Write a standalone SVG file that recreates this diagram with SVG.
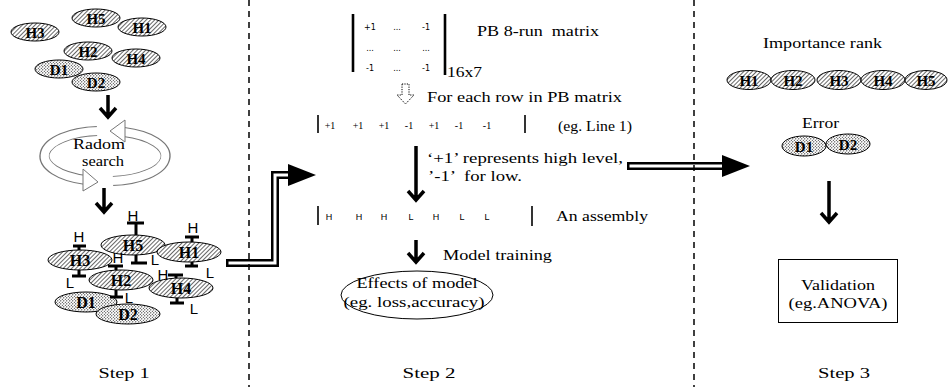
<svg xmlns="http://www.w3.org/2000/svg" width="948" height="387" viewBox="0 0 948 387">
<style>
.t{font-family:"Liberation Serif","Times New Roman",serif;font-size:15px;fill:#000}
.lab{font-family:"Liberation Serif","Times New Roman",serif;font-weight:bold;fill:#000;text-anchor:middle}
.s{font-family:"Liberation Sans",Arial,sans-serif;fill:#000}
.m{font-family:"DejaVu Sans","Liberation Sans",sans-serif;font-size:8px;fill:#000;text-anchor:middle}
.hn{fill:url(#hatch);stroke:#000;stroke-width:1}
.dn{fill:url(#dots);stroke:#000;stroke-width:1}
.ib{stroke:#000;stroke-width:3;fill:none}
.arr{stroke:#000;stroke-width:3.5;fill:none;stroke-linejoin:miter}
.bar{stroke:#000;stroke-width:1.6}
.mbar{stroke:#000;stroke-width:2.6}
.dash{stroke:#000;stroke-width:1.5;stroke-dasharray:6 5}
</style>
<defs>
<pattern id="hatch" width="3" height="3" patternUnits="userSpaceOnUse" patternTransform="rotate(45)">
<rect width="3" height="3" fill="#fff"/>
<line x1="0" y1="0" x2="0" y2="3" stroke="#000" stroke-width="1.2"/>
</pattern>
<pattern id="dots" width="3" height="3" patternUnits="userSpaceOnUse">
<rect width="3" height="3" fill="#fff"/>
<circle cx="0.8" cy="0.8" r="0.6" fill="#000"/>
<circle cx="2.3" cy="2.3" r="0.5" fill="#000"/>
</pattern>
</defs>
<rect width="948" height="387" fill="#fff"/>

<!-- Step 1: initial cluster -->
<g id="step1-initial">
<ellipse class="hn" cx="35" cy="32" rx="24" ry="9"/><text class="lab" x="35" y="37.5" font-size="15">H3</text>
<ellipse class="hn" cx="96" cy="18" rx="24" ry="9"/><text class="lab" x="96" y="23.5" font-size="15">H5</text>
<ellipse class="hn" cx="142" cy="27" rx="24" ry="9"/><text class="lab" x="142" y="32.5" font-size="15">H1</text>
<ellipse class="hn" cx="88" cy="51" rx="24" ry="9"/><text class="lab" x="88" y="56.5" font-size="15">H2</text>
<ellipse class="hn" cx="136" cy="58" rx="24" ry="9"/><text class="lab" x="136" y="63.5" font-size="15">H4</text>
<ellipse class="dn" cx="59" cy="69" rx="24" ry="9"/><text class="lab" x="59" y="74.5" font-size="15">D1</text>
<ellipse class="dn" cx="96" cy="82" rx="24" ry="9"/><text class="lab" x="96" y="87.5" font-size="15">D2</text>
</g>

<!-- Radom search -->
<g id="radom-search">
<path d="M97 131 A57 25 0 0 0 86 180" fill="none" stroke="#777" stroke-width="10"/>
<path d="M99 131 A57 25 0 0 0 86 180" fill="none" stroke="#fff" stroke-width="8"/>
<polygon points="83,169 83,191 98,182" fill="#fff" stroke="#777" stroke-width="1"/>
<path d="M113 181 A57 25 0 0 0 124 132" fill="none" stroke="#777" stroke-width="10"/>
<path d="M111 181 A57 25 0 0 0 124 132" fill="none" stroke="#fff" stroke-width="8"/>
<polygon points="125,120 125,142 110,131" fill="#fff" stroke="#777" stroke-width="1"/>
<text class="t" x="99" y="149" text-anchor="middle" textLength="52" lengthAdjust="spacingAndGlyphs">Radom</text>
<text class="t" x="103" y="166" text-anchor="middle" textLength="42" lengthAdjust="spacingAndGlyphs">search</text>
</g>

<!-- Step 1: assembled cluster -->
<g id="step1-assembled">
<ellipse class="hn" cx="133" cy="245" rx="32" ry="10"/><text class="lab" x="133" y="251" font-size="16">H5</text>
<ellipse class="hn" cx="189" cy="252" rx="32" ry="10"/><text class="lab" x="189" y="258" font-size="16">H1</text>
<ellipse class="hn" cx="80" cy="260" rx="32" ry="10"/><text class="lab" x="80" y="266" font-size="16">H3</text>
<ellipse class="hn" cx="121" cy="280" rx="32" ry="10"/><text class="lab" x="121" y="286" font-size="16">H2</text>
<ellipse class="hn" cx="181" cy="288" rx="32" ry="10"/><text class="lab" x="181" y="294" font-size="16">H4</text>
<ellipse class="dn" cx="86" cy="302" rx="31" ry="10"/><text class="lab" x="86" y="308" font-size="16">D1</text>
<ellipse class="dn" cx="128" cy="314" rx="32" ry="10"/><text class="lab" x="128" y="320" font-size="16">D2</text>
<g class="s" font-size="15" text-anchor="middle">
<path class="ib" d="M127 223 H144 M136 223 V235 M136 255 V263 M131 263 H147"/>
<text x="133" y="221">H</text><text x="155" y="265">L</text>
<path class="ib" d="M185 237 H199 M192 237 V242 M192 262 V266 M185 266 H198"/>
<text x="193" y="233">H</text><text x="210" y="278">L</text>
<path class="ib" d="M73 246 H86 M79 246 V250 M79 270 V276 M72 276 H86"/>
<text x="79" y="242">H</text><text x="70" y="288">L</text>
<path class="ib" d="M108 266 H123 M116 266 V270 M116 290 V297 M110 297 H123"/>
<text x="118" y="263">H</text><text x="129" y="303">L</text>
<path class="ib" d="M168 275 H183 M176 275 V278 M177 298 V303 M170 303 H184"/>
<text x="163" y="280">H</text><text x="194" y="314">L</text>
</g>
</g>

<!-- Step 2 -->
<g id="pb-matrix">
<line class="mbar" x1="353" y1="14" x2="353" y2="72"/>
<line class="mbar" x1="445" y1="14" x2="445" y2="75"/>
<text class="m" x="370" y="30">+1</text><text class="m" x="397" y="30">...</text><text class="m" x="426" y="30">-1</text>
<text class="m" x="370" y="51">...</text><text class="m" x="397" y="51">...</text><text class="m" x="426" y="51">...</text>
<text class="m" x="370" y="71">-1</text><text class="m" x="397" y="71">...</text><text class="m" x="426" y="71">-1</text>
<text class="t" x="447" y="77" textLength="35" lengthAdjust="spacingAndGlyphs">16x7</text>
<text class="t" x="477" y="36" textLength="122" lengthAdjust="spacingAndGlyphs" xml:space="preserve">PB 8-run  matrix</text>
</g>

<g id="for-each-row">
<path d="M402 84 H409 V95 H414 L405.5 104 L397 95 H402 Z" fill="#fff" stroke="#000" stroke-width="1" stroke-dasharray="1.2 1.2"/>
<text class="t" x="427" y="102" textLength="195" lengthAdjust="spacingAndGlyphs">For each row in PB matrix</text>
</g>

<g id="row-vector">
<line class="bar" x1="318" y1="115" x2="318" y2="133"/>
<line class="bar" x1="525" y1="115" x2="525" y2="133"/>
<g font-family="Liberation Serif, Times New Roman, serif" font-size="10" text-anchor="middle">
<text x="330" y="129">+1</text><text x="358" y="129">+1</text><text x="384" y="129">+1</text><text x="409" y="129">-1</text><text x="434" y="129">+1</text><text x="459" y="129">-1</text><text x="487" y="129">-1</text>
</g>
<text class="t" x="558" y="131" textLength="74" lengthAdjust="spacingAndGlyphs">(eg. Line 1)</text>
</g>

<g id="level-note">
<text class="t" x="427" y="163" textLength="196" lengthAdjust="spacingAndGlyphs">‘+1’ represents high level,</text>
<text class="t" x="428" y="181" textLength="94" lengthAdjust="spacingAndGlyphs" xml:space="preserve">’-1’  for low.</text>
</g>

<g id="assembly">
<line class="bar" x1="318" y1="206" x2="318" y2="225"/>
<line class="bar" x1="532" y1="206" x2="532" y2="226"/>
<g class="s" font-size="9" text-anchor="middle">
<text x="329" y="220">H</text><text x="359" y="220">H</text><text x="384" y="220">H</text><text x="411" y="220">L</text><text x="436" y="220">H</text><text x="462" y="220">L</text><text x="487" y="220">L</text>
</g>
<text class="t" x="556" y="221" textLength="92" lengthAdjust="spacingAndGlyphs">An assembly</text>
</g>

<g id="model-training">
<text class="t" x="443" y="260" textLength="109" lengthAdjust="spacingAndGlyphs">Model training</text>
</g>

<g id="effects">
<ellipse cx="417" cy="295" rx="76" ry="24" fill="#fff" stroke="#000" stroke-width="1"/>
<text class="t" x="417" y="288" text-anchor="middle" textLength="121" lengthAdjust="spacingAndGlyphs">Effects of model</text>
<text class="t" x="414" y="307" text-anchor="middle" textLength="141" lengthAdjust="spacingAndGlyphs">(eg. loss,accuracy)</text>
</g>

<!-- Step 3 -->
<g id="importance-rank">
<text class="t" x="763" y="48" textLength="119" lengthAdjust="spacingAndGlyphs">Importance rank</text>
<ellipse class="hn" cx="749" cy="80" rx="22" ry="9.5"/><text class="lab" x="749" y="85.5" font-size="15">H1</text>
<ellipse class="hn" cx="793" cy="80" rx="22" ry="9.5"/><text class="lab" x="793" y="85.5" font-size="15">H2</text>
<ellipse class="hn" cx="839" cy="80" rx="22" ry="9.5"/><text class="lab" x="839" y="85.5" font-size="15">H3</text>
<ellipse class="hn" cx="883" cy="80" rx="22" ry="9.5"/><text class="lab" x="883" y="85.5" font-size="15">H4</text>
<ellipse class="hn" cx="926" cy="80" rx="21" ry="9.5"/><text class="lab" x="926" y="85.5" font-size="15">H5</text>
</g>

<g id="error">
<text class="t" x="802" y="128" textLength="37" lengthAdjust="spacingAndGlyphs">Error</text>
<ellipse class="dn" cx="804" cy="146" rx="22" ry="10"/><text class="lab" x="804" y="151.5" font-size="15">D1</text>
<ellipse class="dn" cx="848" cy="144" rx="22" ry="10"/><text class="lab" x="848" y="149.5" font-size="15">D2</text>
</g>

<g id="validation">
<rect x="778.5" y="259.5" width="119" height="63" fill="#fff" stroke="#000" stroke-width="1"/>
<text class="t" x="838" y="290" text-anchor="middle" textLength="74" lengthAdjust="spacingAndGlyphs">Validation</text>
<text class="t" x="838" y="308" text-anchor="middle" textLength="99" lengthAdjust="spacingAndGlyphs">(eg.ANOVA)</text>
</g>

<g id="step-labels">
<text class="t" x="124" y="378" text-anchor="middle" textLength="51" lengthAdjust="spacingAndGlyphs">Step 1</text>
<text class="t" x="429" y="378" text-anchor="middle" textLength="53" lengthAdjust="spacingAndGlyphs">Step 2</text>
<text class="t" x="844" y="378" text-anchor="middle" textLength="52" lengthAdjust="spacingAndGlyphs">Step 3</text>
</g>

<!-- connectors -->
<g id="connectors">
<path class="arr" d="M108 95 V117 M100 108 L108 117 L116 108"/>
<path class="arr" d="M104 188 V212 M96 203 L104 212 L112 203"/>
<path class="arr" d="M416 146 V200 M408 191 L416 200 L424 191"/>
<path class="arr" d="M416 240 V262 M408 253 L416 262 L424 253"/>
<path class="arr" d="M829 181 V222 M821 213 L829 222 L837 213"/>
<path d="M226 263 H275 V175 H290" fill="none" stroke="#000" stroke-width="8"/>
<path d="M228.5 263 H275 V175 H290" fill="none" stroke="#fff" stroke-width="3"/>
<polygon points="288,164 316,175 288,186" fill="#000"/>
<path d="M627 166 H724" fill="none" stroke="#000" stroke-width="8"/>
<path d="M629.5 166 H724" fill="none" stroke="#fff" stroke-width="3"/>
<polygon points="722,155 750,166 722,177" fill="#000"/>
</g>

<g id="separators">
<line class="dash" x1="249" y1="0" x2="249" y2="387"/>
<line class="dash" x1="694" y1="0" x2="694" y2="387"/>
</g>
</svg>
